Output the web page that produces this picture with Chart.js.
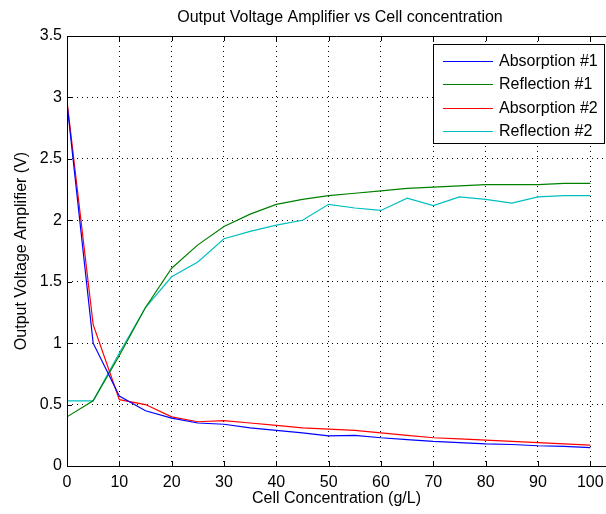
<!DOCTYPE html>
<html>
<head>
<meta charset="utf-8">
<script src="https://cdn.jsdelivr.net/npm/chart.js@4/dist/chart.umd.min.js"></script>
<style>
  html, body { margin: 0; padding: 0; background: #fff; }
  #wrap { width: 606px; height: 514px; }
</style>
</head>
<body>
<div id="wrap"><canvas id="volt"></canvas></div>
<script>
// concentration values (g/L)
const conc = [0, 5, 10, 15, 20, 25, 30, 35, 40, 45, 50, 55, 60, 65, 70, 75, 80, 85, 90, 95, 100];

const absorption1 = [2.95, 1.00, 0.57, 0.45, 0.39, 0.35, 0.34, 0.31, 0.29, 0.27, 0.245, 0.25, 0.23, 0.215, 0.20, 0.19, 0.18, 0.175, 0.165, 0.16, 0.15];
const reflection1 = [0.40, 0.53, 0.90, 1.29, 1.61, 1.80, 1.95, 2.05, 2.13, 2.17, 2.20, 2.22, 2.24, 2.26, 2.27, 2.28, 2.29, 2.29, 2.29, 2.30, 2.30];
const absorption2 = [2.97, 1.15, 0.54, 0.50, 0.40, 0.36, 0.37, 0.35, 0.33, 0.31, 0.30, 0.29, 0.27, 0.25, 0.23, 0.22, 0.21, 0.20, 0.19, 0.18, 0.17];
const reflection2 = [0.53, 0.53, 0.92, 1.29, 1.54, 1.66, 1.85, 1.91, 1.96, 2.00, 2.13, 2.10, 2.08, 2.18, 2.12, 2.19, 2.17, 2.14, 2.19, 2.20, 2.20];

const xTicks = [0, 10, 20, 30, 40, 50, 60, 70, 80, 90, 100];
const yTicks = [0, 0.5, 1, 1.5, 2, 2.5, 3, 3.5];

const FONT = 'Liberation Sans, Arial, Helvetica, sans-serif';

function pts(ys) {
    return conc.map((c, i) => ({ x: c, y: ys[i] }));
}

// MATLAB-like frame, inward ticks, title and boxed legend
const matlabLook = {
    id: 'matlabLook',
    afterDraw(chart) {
        const { ctx, chartArea: a, scales } = chart;
        ctx.save();
        ctx.strokeStyle = '#000';
        ctx.lineWidth = 1;
        ctx.beginPath();
        ctx.moveTo(a.left + 0.5, a.bottom + 0.5);
        ctx.lineTo(a.left + 0.5, a.top + 0.5);
        ctx.lineTo(a.right, a.top + 0.5);
        ctx.moveTo(a.left, a.bottom + 0.5);
        ctx.lineTo(a.right, a.bottom + 0.5);
        xTicks.forEach(v => {
            const x = Math.round(scales.x.getPixelForValue(v)) + 0.5;
            ctx.moveTo(x, a.bottom);
            ctx.lineTo(x, a.bottom - 5);
            ctx.moveTo(x, a.top);
            ctx.lineTo(x, a.top + 5);
        });
        yTicks.forEach(v => {
            const y = Math.round(scales.y.getPixelForValue(v)) + 0.5;
            ctx.moveTo(a.left, y);
            ctx.lineTo(a.left + 5, y);
        });
        ctx.stroke();

        // title
        ctx.fillStyle = '#000';
        ctx.font = '16px ' + FONT;
        ctx.textAlign = 'center';
        ctx.textBaseline = 'middle';
        ctx.fillText('Output Voltage Amplifier vs Cell concentration', 340, 18);

        // legend box
        const lx = 433, ly = 44, lw = 171, lh = 99;
        ctx.fillStyle = '#fff';
        ctx.fillRect(lx, ly, lw, lh);
        ctx.strokeRect(lx + 0.5, ly + 0.5, lw, lh);
        ctx.textAlign = 'left';
        ctx.font = '16px ' + FONT;
        chart.data.datasets.forEach((ds, i) => {
            const y = ly + 16.5 + i * 23.5;
            ctx.strokeStyle = ds.borderColor;
            ctx.beginPath();
            ctx.moveTo(lx + 10, Math.round(y) + 0.5);
            ctx.lineTo(lx + 60, Math.round(y) + 0.5);
            ctx.stroke();
            ctx.fillStyle = '#000';
            ctx.fillText(ds.label, lx + 66, y + 1);
        });
        ctx.restore();
    }
};

const ctx = document.getElementById('volt').getContext('2d');
const voltChart = new Chart(ctx, {
    type: 'line',
    data: {
        datasets: [
            { label: 'Absorption #1', data: pts(absorption1), borderColor: '#0000ff' },
            { label: 'Reflection #1', data: pts(reflection1), borderColor: '#008000' },
            { label: 'Absorption #2', data: pts(absorption2), borderColor: '#ff0000' },
            { label: 'Reflection #2', data: pts(reflection2), borderColor: '#00bfbf' }
        ].map(d => Object.assign(d, { borderWidth: 1.2, pointRadius: 0, tension: 0, fill: false }))
    },
    options: {
        animation: false,
        responsive: true,
        maintainAspectRatio: false,
        layout: { padding: { top: 36, right: 0, bottom: 0, left: 0 } },
        plugins: {
            legend: { display: false },
            title: { display: false },
            tooltip: { enabled: false }
        },
        scales: {
            x: {
                type: 'linear',
                min: 0,
                max: 103,
                afterBuildTicks: s => { s.ticks = xTicks.map(v => ({ value: v })); },
                afterFit: s => { s.height = 48; s.paddingRight = 0; s.paddingLeft = 0; },
                grid: { color: '#000', lineWidth: 1, drawTicks: false },
                border: { display: false, dash: [1, 4] },
                ticks: { color: '#000', padding: 7, maxRotation: 0, font: { size: 16, family: FONT }, callback: v => String(v) },
                title: {
                    display: true,
                    text: 'Cell Concentration (g/L)',
                    color: '#000',
                    padding: { top: 6, bottom: 6 },
                    font: { size: 16, family: FONT }
                }
            },
            y: {
                min: 0,
                max: 3.5,
                afterBuildTicks: s => { s.ticks = yTicks.map(v => ({ value: v })); },
                afterFit: s => { s.width = 67; },
                grid: { color: '#000', lineWidth: 1, drawTicks: false },
                border: { display: false, dash: [1, 4] },
                ticks: { color: '#000', padding: 5, font: { size: 16, family: FONT }, callback: v => String(v) },
                title: {
                    display: true,
                    text: 'Output Voltage Amplifier (V)',
                    color: '#000',
                    padding: { top: 12, bottom: 12 },
                    font: { size: 16, family: FONT }
                }
            }
        }
    },
    plugins: [matlabLook]
});
</script>
</body>
</html>
